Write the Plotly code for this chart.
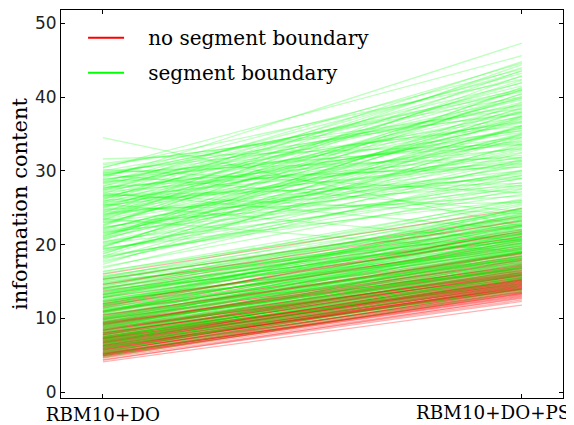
import plotly.graph_objects as go

categories = ["RBM10+DO", "RBM10+DO+PS"]
series_names = ["no segment boundary", "segment boundary"]

red_start = [
    4.1, 4.6, 4.9, 5.2, 5.0, 5.5, 5.8, 6.1, 5.3, 4.8,
    6.4, 6.9, 7.2, 5.7, 6.0, 6.6, 7.5, 8.0, 5.1, 6.3,
    7.8, 8.4, 9.1, 6.8, 7.0, 5.9, 8.7, 9.6, 10.2, 6.2,
    4.4, 5.4, 7.3, 8.1, 6.7, 9.9, 10.8, 7.6, 5.6, 6.5,
    11.4, 8.9, 7.9, 6.1, 5.2, 12.3, 9.3, 7.1, 8.3, 10.5,
    4.7, 6.9, 13.2, 8.6, 5.8, 7.4, 9.0, 11.0, 6.4, 14.1,
    5.0, 7.7, 8.8, 10.0, 6.0, 12.8, 9.5, 5.5, 7.2, 15.3,
    6.6, 8.2, 4.3, 11.8, 7.0, 9.8, 5.9, 13.7, 6.8, 8.5,
    10.9, 5.3, 7.5, 16.0, 6.2, 9.2, 12.0, 5.7, 8.0, 7.8,
    4.9, 10.4, 6.3, 14.6, 7.3, 5.1, 9.4, 11.6, 6.7, 8.4,
]
red_end = [
    11.8, 12.5, 13.1, 13.4, 12.9, 13.8, 14.0, 14.3, 13.0, 12.7,
    14.6, 15.2, 14.9, 13.6, 14.8, 14.1, 15.8, 16.4, 13.3, 15.0,
    15.3, 16.9, 17.2, 14.4, 15.6, 14.2, 16.0, 18.1, 18.7, 13.9,
    12.3, 14.5, 16.2, 15.5, 15.9, 17.6, 19.4, 14.7, 13.5, 15.4,
    20.2, 17.8, 16.6, 14.0, 13.2, 19.8, 16.8, 15.1, 17.3, 18.4,
    13.6, 14.8, 21.5, 15.7, 14.4, 16.1, 18.5, 18.9, 15.3, 22.6,
    13.7, 16.3, 16.7, 19.0, 14.1, 20.7, 17.4, 14.3, 15.5, 23.8,
    15.0, 16.8, 12.8, 19.6, 14.6, 18.2, 14.9, 22.0, 15.8, 17.0,
    20.5, 13.9, 16.0, 24.9, 14.2, 17.9, 21.1, 14.7, 15.9, 16.5,
    13.4, 18.8, 14.5, 23.2, 15.2, 14.0, 17.1, 21.8, 15.1, 16.2,
]

green_start = [
    5.0, 5.6, 6.2, 6.8, 7.3, 7.9, 8.4, 9.0, 9.5, 10.1,
    10.6, 11.2, 11.8, 12.3, 12.9, 13.5, 14.0, 14.6, 15.2, 15.8,
    4.7, 5.3, 6.0, 6.5, 7.1, 7.6, 8.1, 8.7, 9.2, 9.8,
    10.3, 10.9, 11.5, 12.0, 12.6, 13.1, 13.8, 14.3, 14.9, 15.5,
    5.8, 6.4, 7.0, 7.7, 8.3, 8.9, 9.4, 10.0, 10.7, 11.3,
    11.9, 12.5, 13.3, 13.9, 14.5, 15.1, 5.5, 6.7, 7.4, 8.6,
    9.7, 10.4, 11.0, 12.2, 13.0, 6.1, 7.2, 8.0, 9.1, 10.2,
    11.6, 12.8, 6.9, 8.2, 9.3, 10.5, 11.7, 12.4, 13.6, 14.2,
    5.2, 6.3, 7.5, 8.8, 9.9, 11.1, 12.7, 13.4, 14.7, 15.6,
    16.1, 7.8, 9.6, 10.8, 12.1, 4.9, 6.6, 8.5, 10.0, 11.4,
    5.4, 6.0, 6.6, 7.2, 7.8, 8.3, 8.9, 9.4, 10.0, 10.6,
    11.1, 11.7, 12.2, 12.8, 13.3, 13.9, 14.4, 15.0, 15.7, 16.3,
    5.7, 6.2, 6.8, 7.4, 8.0, 8.5, 9.1, 9.7, 10.2, 10.8,
    11.3, 11.9, 12.4, 13.0, 13.6, 14.1, 14.8, 15.4, 7.6, 9.0,
    5.1, 5.9, 6.4, 7.0, 8.1, 9.3, 10.1, 11.0, 12.0, 12.9,
    6.5, 7.3, 8.7, 9.8, 10.9, 11.8, 13.2, 14.0, 15.3, 16.4,
    17.0, 17.6, 18.2, 18.8, 19.3, 19.9, 20.4, 20.9, 21.3, 21.8,
    22.2, 22.7, 23.1, 23.6, 24.0, 24.5, 24.9, 25.3, 25.8, 26.2,
    26.7, 27.1, 27.6, 28.0, 28.5, 28.9, 29.4, 29.9, 30.4, 30.8,
    17.3, 18.5, 19.6, 20.1, 21.0, 22.4, 23.3, 24.2, 25.1, 26.0,
    26.9, 27.8, 28.7, 29.6, 30.2, 19.0, 20.7, 21.6, 22.9, 23.8,
    24.7, 25.6, 26.5, 27.4, 28.3, 20.2, 21.9, 23.4, 24.4, 25.9,
    27.2, 28.6, 29.2, 22.0, 23.0, 25.0, 26.4, 18.0, 19.4, 21.2,
    27.9, 24.8, 26.8, 31.6, 34.5, 29.0, 20.6, 22.5, 18.7, 16.8,
    27.0, 25.5, 29.5, 23.5,
    17.8, 18.4, 19.1, 19.7, 20.3, 20.8, 21.5, 22.1, 22.6, 23.2,
    23.7, 24.3, 24.6, 25.2, 25.7, 26.3, 26.6, 27.3, 27.7, 28.2,
    28.8, 29.3, 29.8, 30.5, 31.0, 18.3, 19.8, 21.1, 22.3, 23.9,
    25.4, 26.1, 27.5, 28.4, 29.7, 21.7, 24.1, 26.6, 19.5, 30.0,
]
green_end = [
    14.2, 15.1, 16.0, 15.4, 17.2, 16.5, 18.3, 17.6, 19.1, 18.4,
    20.2, 19.0, 21.3, 20.1, 22.4, 21.0, 23.2, 22.1, 24.0, 23.3,
    13.6, 16.8, 14.7, 18.1, 15.9, 19.4, 16.2, 20.3, 17.0, 21.5,
    18.9, 22.7, 17.8, 23.9, 19.5, 24.6, 20.7, 25.3, 21.6, 26.2,
    17.5, 13.9, 18.8, 14.8, 19.7, 15.6, 20.9, 16.7, 21.9, 16.4,
    22.8, 18.0, 23.6, 19.2, 24.4, 20.5, 15.7, 16.6, 17.9, 18.6,
    19.9, 20.6, 21.2, 22.0, 21.8, 15.2, 16.9, 17.4, 18.0, 19.6,
    20.0, 21.4, 17.1, 16.8, 19.3, 17.5, 19.8, 23.0, 22.5, 20.9,
    14.5, 17.8, 15.3, 19.0, 18.2, 20.8, 19.1, 24.9, 23.7, 22.8,
    25.5, 18.4, 16.1, 23.4, 24.2, 15.5, 19.2, 21.1, 22.3, 25.0,
    16.3, 17.0, 14.5, 18.0, 15.6, 20.0, 17.3, 21.0, 18.8, 22.1,
    19.4, 23.1, 20.4, 24.1, 21.3, 24.8, 22.7, 25.8, 24.5, 26.0,
    14.0, 15.8, 17.7, 16.4, 19.0, 17.0, 20.6, 18.3, 21.6, 19.9,
    22.6, 21.0, 21.7, 23.4, 20.2, 23.9, 22.4, 21.4, 20.8, 22.5,
    13.8, 16.1, 18.5, 16.0, 18.1, 16.9, 20.1, 18.1, 19.0, 20.8,
    15.4, 19.6, 18.9, 20.4, 21.4, 24.3, 22.9, 21.7, 23.6, 24.7,
    27.5, 31.2, 29.0, 34.5, 30.1, 36.2, 28.4, 32.8, 38.0, 30.6,
    34.9, 40.1, 29.6, 36.7, 42.3, 33.2, 38.8, 31.4, 44.0, 35.5,
    39.6, 32.1, 41.5, 37.3, 43.2, 34.0, 40.7, 36.1, 45.6, 38.4,
    35.0, 26.8, 39.2, 27.2, 41.3, 28.9, 43.6, 30.0, 35.8, 29.0,
    42.8, 31.0, 39.0, 33.5, 27.0, 32.4, 35.1, 33.0, 37.5, 39.9,
    36.5, 40.9, 37.9, 34.6, 41.9, 30.8, 31.9, 34.2, 28.0, 33.9,
    36.8, 30.5, 43.8, 37.0, 26.6, 42.0, 31.7, 33.7, 28.1, 36.0,
    44.6, 25.7, 24.2, 33.6, 22.5, 47.3, 38.6, 41.0, 37.3, 30.0,
    22.0, 20.5, 24.5, 19.0,
    29.4, 36.1, 31.5, 38.2, 33.4, 40.5, 29.8, 35.8, 42.9, 32.5,
    38.4, 44.4, 34.5, 39.3, 30.9, 41.2, 35.2, 43.5, 33.0, 38.9,
    36.6, 41.0, 31.8, 42.4, 37.7, 27.9, 34.8, 37.4, 31.3, 40.4,
    37.1, 44.8, 39.8, 35.4, 38.0, 27.6, 29.3, 28.3, 26.0, 40.0,
]

RED = "rgba(255,0,0,0.3)"
GREEN = "rgba(0,255,0,0.25)"
SERIF = "DejaVu Serif"
TICKFONT = dict(family=SERIF, size=18.3, color="black")


def add_line(y0, y1, color):
    fig.add_trace(go.Scatter(x=categories, y=[y0, y1], mode="lines",
                             line=dict(color=color, width=1.3), showlegend=False, hoverinfo="skip"))


fig = go.Figure()
split = 85
for i in range(split):
    add_line(red_start[i], red_end[i], RED)
for i in range(len(green_start)):
    add_line(green_start[i], green_end[i], GREEN)
for i in range(split, len(red_start)):
    add_line(red_start[i], red_end[i], RED)

fig.add_trace(go.Scatter(x=[None], y=[None], mode="lines", name="\u00a0\u00a0\u00a0" + series_names[0],
                         line=dict(color="#ff0000", width=2), legendgroup="a"))
fig.add_trace(go.Scatter(x=[None], y=[None], mode="lines", name="\u00a0\u00a0\u00a0" + series_names[1],
                         line=dict(color="#00ff00", width=2), legendgroup="b"))

# second category label is drawn pulled left so that it stays inside the figure
fig.add_annotation(x=categories[1], xref="x", y=0, yref="paper", text=categories[1],
                   showarrow=False, xanchor="right", yanchor="top", xshift=50, yshift=-2,
                   font=TICKFONT)

fig.update_layout(
    width=566, height=417,
    margin=dict(l=53, r=11, t=2, b=27),
    paper_bgcolor="white", plot_bgcolor="white",
    showlegend=True,
    legend=dict(x=0.044, y=0.979, xanchor="left", yanchor="top", bgcolor="rgba(0,0,0,0)",
                font=dict(family=SERIF, size=20, color="black"), itemwidth=36,
                traceorder="grouped", tracegroupgap=6),
    xaxis=dict(type="category", range=[-0.1, 1.098], showline=True, mirror="ticks",
               linecolor="black", linewidth=1, ticks="inside", ticklen=4, tickcolor="black",
               showgrid=False, zeroline=False, automargin=False,
               tickvals=categories,
               ticktext=[categories[0], ""],
               tickfont=TICKFONT),
    yaxis=dict(range=[-0.8, 51.8], showline=True, mirror="ticks", linecolor="black", linewidth=1,
               ticks="inside", ticklen=4, tickcolor="black", showgrid=False, zeroline=False,
               automargin=False,
               tickvals=[0, 10, 20, 30, 40, 50],
               tickfont=dict(family="DejaVu Sans", size=17, color="#222222"),
               title=dict(text="information content", font=dict(family=SERIF, size=21, color="black"),
                          standoff=6)),
)

fig.write_html("out.html")
